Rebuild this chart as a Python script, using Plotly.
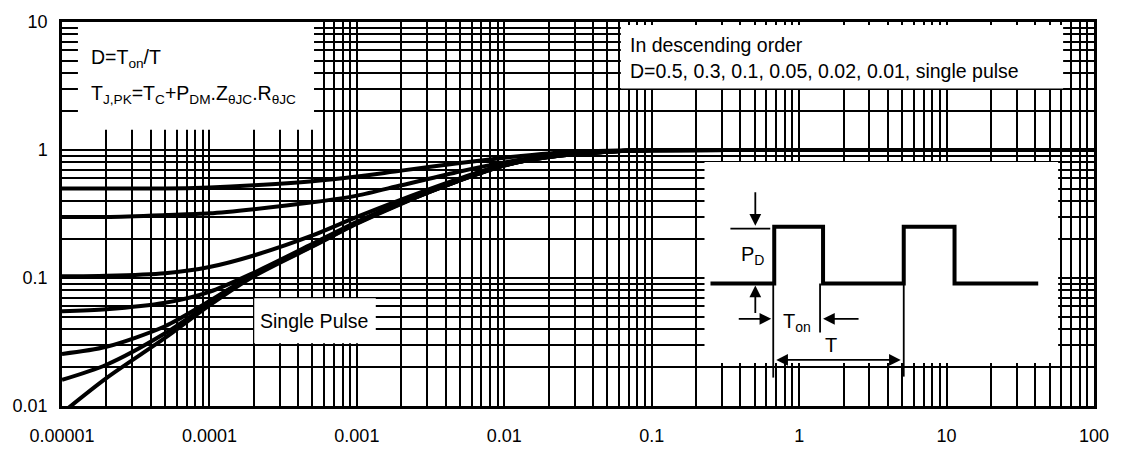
import plotly.graph_objects as go

# ---------------- data ----------------
t_pulse = [1e-5, 2e-5, 5e-5, 1e-4, 2e-4, 5e-4, 1e-3, 2e-3, 5e-3, 1e-2, 2e-2, 5e-2, 1e-1, 1, 10, 100]
z_d050 = [0.50, 0.50, 0.50, 0.51, 0.53, 0.57, 0.62, 0.69, 0.79, 0.87, 0.94, 0.985, 1.0, 1.0, 1.0, 1.0]
z_d030 = [0.30, 0.30, 0.31, 0.32, 0.345, 0.39, 0.44, 0.53, 0.68, 0.80, 0.90, 0.97, 0.995, 1.0, 1.0, 1.0]
z_d010 = [0.103, 0.104, 0.109, 0.122, 0.15, 0.215, 0.30, 0.41, 0.60, 0.77, 0.89, 0.97, 0.995, 1.0, 1.0, 1.0]
z_d005 = [0.055, 0.057, 0.064, 0.078, 0.11, 0.185, 0.275, 0.39, 0.585, 0.76, 0.885, 0.97, 0.995, 1.0, 1.0, 1.0]
z_d002 = [0.0255, 0.029, 0.042, 0.066, 0.107, 0.18, 0.27, 0.385, 0.58, 0.76, 0.88, 0.97, 0.995, 1.0, 1.0, 1.0]
z_d001 = [0.016, 0.021, 0.037, 0.063, 0.105, 0.178, 0.268, 0.383, 0.58, 0.758, 0.88, 0.97, 0.995, 1.0, 1.0, 1.0]
z_single = [0.0088, 0.0165, 0.034, 0.061, 0.103, 0.176, 0.265, 0.38, 0.578, 0.756, 0.88, 0.97, 0.995, 1.0, 1.0, 1.0]

series = [("D=0.5", z_d050), ("D=0.3", z_d030), ("D=0.1", z_d010), ("D=0.05", z_d005),
          ("D=0.02", z_d002), ("D=0.01", z_d001), ("Single Pulse", z_single)]

x_major = [1e-5, 1e-4, 1e-3, 1e-2, 1e-1, 1, 10, 100]
x_labels = ["0.00001", "0.0001", "0.001", "0.01", "0.1", "1", "10", "100"]
y_major = [0.01, 0.1, 1, 10]
y_labels = ["0.01", "0.1", "1", "10"]
mults = [2, 3, 4, 5, 6, 7, 8, 9]
x_minor = [d * m for d in x_major[:-1] for m in mults]
y_minor = [d * m for d in y_major[:-1] for m in mults]

FONT = "Liberation Sans, Arial, sans-serif"
W, H = 1121, 458
ML, MR, MT, MB = 62, 23, 20, 46
PW, PH = W - ML - MR, H - MT - MB


def px(x):
    return (x - ML) / PW


def py(y):
    return (H - MB - y) / PH


fig = go.Figure()
for name, vals in series:
    fig.add_trace(go.Scatter(x=t_pulse, y=vals, mode="lines", name=name,
                             line=dict(color="black", width=4, shape="spline", smoothing=0.8),
                             showlegend=False, hoverinfo="skip"))

shapes = []
# white boxes
for (x0, y0, x1, y1) in [(78, 20, 315, 130), (623, 23, 1067, 88), (707, 163, 1062, 368), (255, 302, 377, 348)]:
    shapes.append(dict(type="rect", xref="paper", yref="paper", x0=px(x0), x1=px(x1),
                       y0=py(y1), y1=py(y0), fillcolor="white", line=dict(width=0), layer="above"))

# waveform in inset
wave = [(713, 287), (777, 287), (777, 229), (826, 229), (826, 287), (907, 287), (907, 229),
        (958, 229), (958, 287), (1042, 287)]
path = "M " + " L ".join(f"{px(a):.5f},{py(b):.5f}" for a, b in wave)
shapes.append(dict(type="path", xref="paper", yref="paper", path=path,
                   line=dict(color="black", width=4), layer="above"))
# thin guide lines
for (a, b, c, d) in [(733, 231, 773, 231), (776, 287, 776, 383), (823, 287, 823, 337), (907, 287, 907, 382)]:
    shapes.append(dict(type="line", xref="paper", yref="paper", x0=px(a), y0=py(b), x1=px(c), y1=py(d),
                       line=dict(color="black", width=1.8), layer="above"))

annotations = []
# arrows: (head x, head y, tail x, tail y)
for (hx, hy, tx, ty, side) in [(758, 228, 758, 193, "end"), (758, 289, 758, 318, "end"),
                               (774, 323, 740, 323, "end"), (826, 323, 863, 323, "end"),
                               (904, 365, 778, 365, "end+start")]:
    annotations.append(dict(xref="paper", yref="paper", x=px(hx), y=py(hy), axref="pixel", ayref="pixel",
                            ax=tx - hx, ay=ty - hy, showarrow=True, arrowhead=2, arrowsize=1.3,
                            arrowwidth=1.8, arrowcolor="black", arrowside=side, text=""))


def label(text, x, y, xanchor="left", size=19.5):
    annotations.append(dict(xref="paper", yref="paper", x=px(x), y=py(y), text=text, showarrow=False,
                            xanchor=xanchor, yanchor="middle", font=dict(family=FONT, size=size, color="black")))


label("D=T<sub>on</sub>/T", 89, 57)
label("T<sub>J,PK</sub>=T<sub>C</sub>+P<sub>DM</sub>.Z<sub>θJC</sub>.R<sub>θJC</sub>", 89, 94)
label("In descending order", 630, 43)
label("D=0.5, 0.3, 0.1, 0.05, 0.02, 0.01, single pulse", 630, 70)
label("Single Pulse", 315, 325, xanchor="center")
label("P<sub>D</sub>", 755, 258, xanchor="center", size=20)
label("T<sub>on</sub>", 800, 327, xanchor="center", size=20)
label("T", 834, 350, xanchor="center", size=20)

axis_common = dict(type="log", showline=True, linecolor="black", linewidth=2.5, mirror=True,
                   showgrid=True, gridcolor="black", gridwidth=1.9, zeroline=False, ticks="",
                   tickfont=dict(family=FONT, size=18, color="black"))

fig.update_layout(
    width=W, height=H, margin=dict(l=ML, r=MR, t=MT, b=MB),
    paper_bgcolor="white", plot_bgcolor="white",
    xaxis=dict(range=[-5, 2], tickvals=x_major, ticktext=x_labels, ticklabelstandoff=12,
               minor=dict(tickvals=x_minor, showgrid=True, gridcolor="black", gridwidth=1.7, ticks=""),
               **axis_common),
    yaxis=dict(range=[-2, 1], tickvals=y_major, ticktext=y_labels, ticklabelstandoff=8,
               minor=dict(tickvals=y_minor, showgrid=True, gridcolor="black", gridwidth=1.7, ticks=""),
               **axis_common),
    shapes=shapes, annotations=annotations,
)

fig.write_html("out.html", config={"displayModeBar": False},
               post_script="document.body.style.margin='0px';")
